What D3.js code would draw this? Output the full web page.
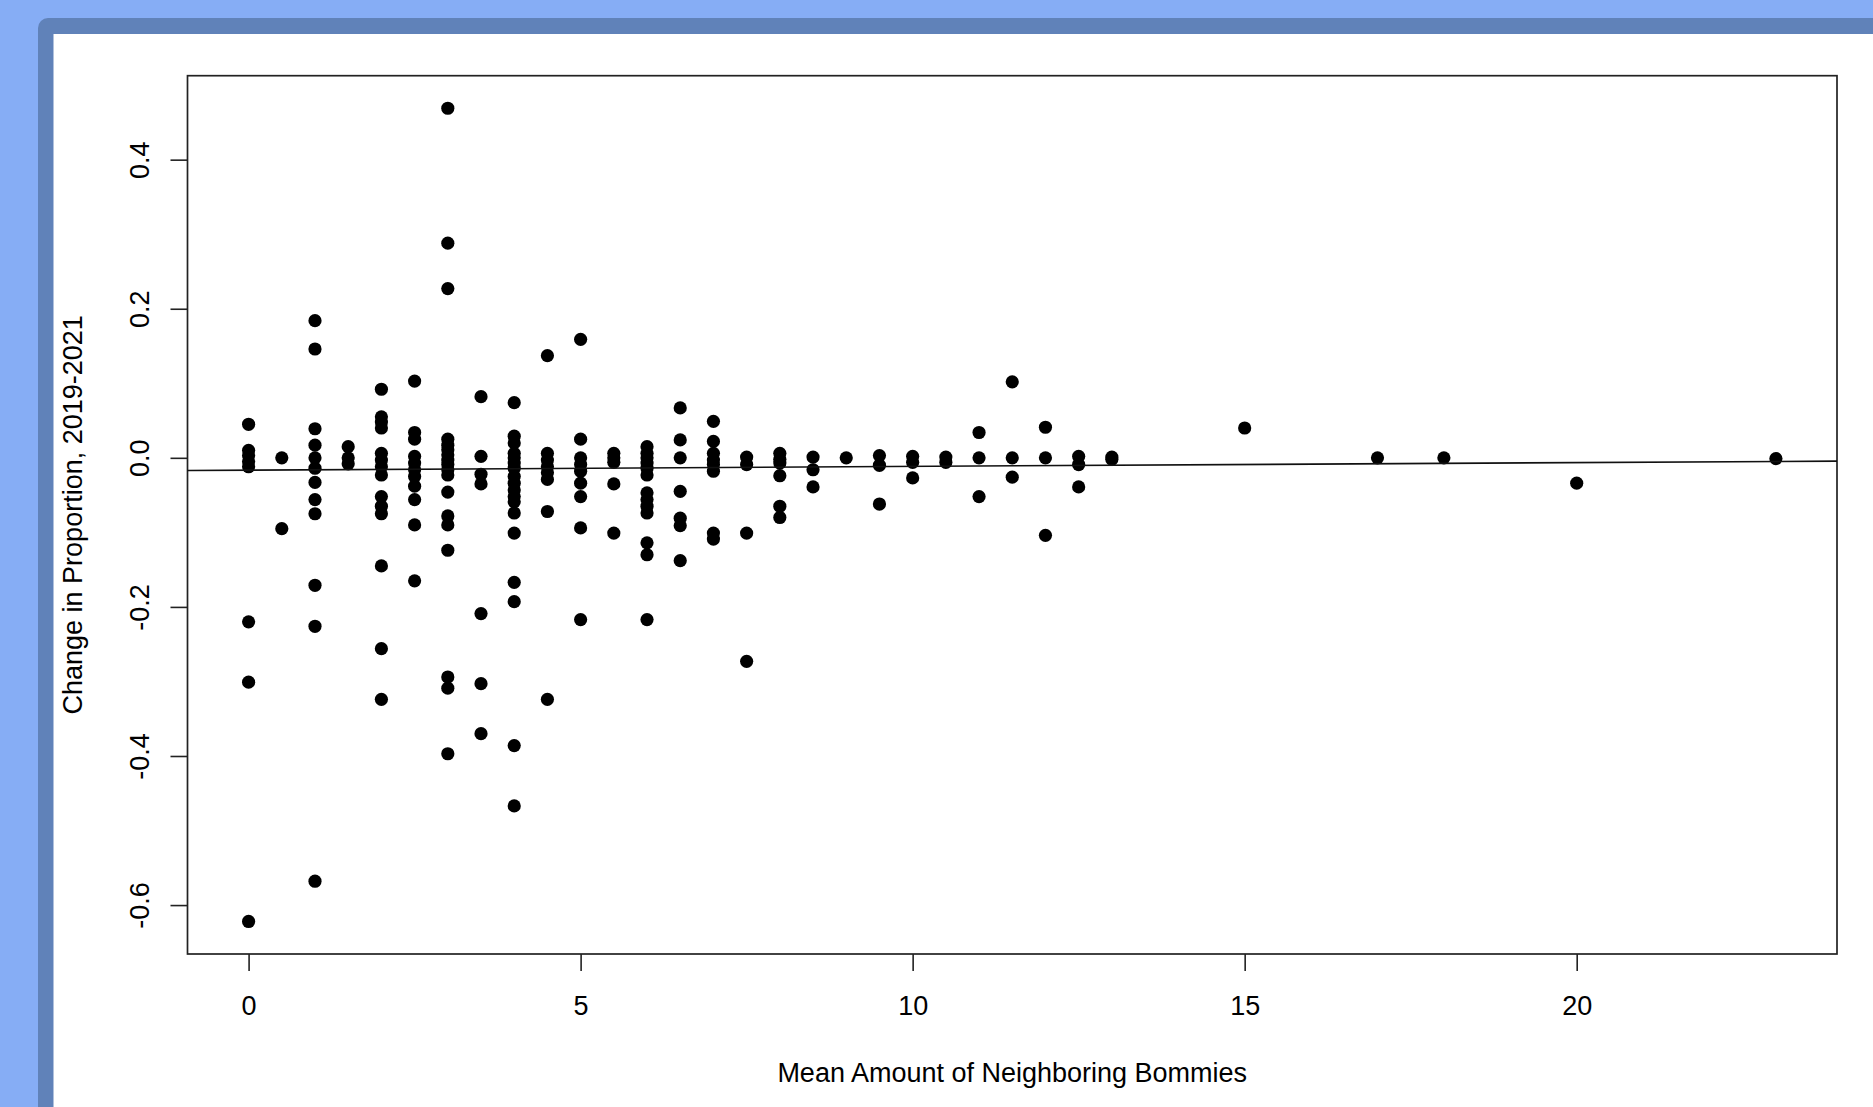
<!DOCTYPE html>
<html>
<head>
<meta charset="utf-8">
<script src="https://cdn.jsdelivr.net/npm/d3@7"></script>
<style>
  html, body { margin: 0; padding: 0; background: #86adf5; overflow: hidden; }
  svg { display: block; }
  text { font-family: "Liberation Sans", Arial, Helvetica, sans-serif; fill: #000; }
</style>
</head>
<body>
<div id="chart"></div>
<script>
// mean neighbouring bommies (x) and the change in proportion observed at each x
var neighborCounts = [0, 0.5, 1, 1.5, 2, 2.5, 3, 3.5, 4, 4.5, 5, 5.5, 6, 6.5, 7, 7.5, 8, 8.5, 9, 9.5, 10, 10.5, 11, 11.5, 12, 12.5, 13, 15, 17, 18, 20, 23];
var proportionChanges = [
  [0.045, 0.01, 0.003, -0.005, -0.012, -0.22, -0.301, -0.622],
  [0.0, -0.095],
  [0.184, 0.146, 0.039, 0.017, 0.0, -0.014, -0.033, -0.056, -0.075, -0.171, -0.226, -0.568],
  [0.015, 0.0, -0.008],
  [0.092, 0.055, 0.048, 0.040, 0.006, -0.003, -0.012, -0.023, -0.052, -0.065, -0.075, -0.145, -0.256, -0.324],
  [0.103, 0.034, 0.025, 0.002, -0.007, -0.016, -0.025, -0.038, -0.056, -0.090, -0.165],
  [0.469, 0.288, 0.227, 0.025, 0.017, 0.011, 0.004, -0.003, -0.009, -0.016, -0.023, -0.046, -0.078, -0.090, -0.124, -0.294, -0.309, -0.397],
  [0.082, 0.002, -0.022, -0.035, -0.209, -0.303, -0.370],
  [0.074, 0.029, 0.020, 0.006, 0.0, -0.007, -0.014, -0.025, -0.034, -0.043, -0.052, -0.059, -0.074, -0.101, -0.167, -0.193, -0.386, -0.467],
  [0.137, 0.006, -0.003, -0.012, -0.020, -0.029, -0.072, -0.324],
  [0.159, 0.025, 0.0, -0.009, -0.018, -0.034, -0.052, -0.094, -0.217],
  [0.006, 0.0, -0.006, -0.035, -0.101],
  [0.015, 0.006, 0.0, -0.007, -0.014, -0.023, -0.047, -0.056, -0.065, -0.074, -0.114, -0.130, -0.217],
  [0.067, 0.024, 0.0, -0.045, -0.081, -0.091, -0.138],
  [0.049, 0.022, 0.006, -0.003, -0.009, -0.018, -0.101, -0.109],
  [0.001, -0.009, -0.101, -0.273],
  [0.006, -0.002, -0.007, -0.024, -0.065, -0.080],
  [0.001, -0.016, -0.039],
  [0.0],
  [0.003, -0.010, -0.062],
  [0.002, -0.006, -0.027],
  [0.001, -0.006],
  [0.034, 0.0, -0.052],
  [0.102, 0.0, -0.026],
  [0.041, 0.0, -0.104],
  [0.002, -0.009, -0.039],
  [0.001, -0.002],
  [0.040],
  [0.0],
  [0.0],
  [-0.034],
  [-0.001]
];

// fitted line (abline of lm)
var fitIntercept = -0.0166,
    fitSlope = 0.00051;

var xTicks = [0, 5, 10, 15, 20];
var yTicks = [-0.6, -0.4, -0.2, 0.0, 0.2, 0.4];

var xTitle = "Mean Amount of Neighboring Bommies",
    yTitle = "Change in Proportion, 2019-2021";

var points = [];
neighborCounts.forEach(function(nx, i) {
  proportionChanges[i].forEach(function(v) { points.push({x: nx, y: v}); });
});

var W = 1873, H = 1107;
var box = {left: 187.5, right: 1837, top: 75.7, bottom: 954};

var svg = d3.select("#chart").append("svg")
    .attr("width", W)
    .attr("height", H);

// window frame behind the plot
svg.append("rect")
    .attr("x", 38).attr("y", 18)
    .attr("width", W).attr("height", H)
    .attr("rx", 10)
    .attr("fill", "#6082b9");
svg.append("rect")
    .attr("x", 53.5).attr("y", 34)
    .attr("width", W).attr("height", H)
    .attr("fill", "#ffffff");

// R style limits: data range stretched by 4% each side
function rlim(ext) {
  var d = (ext[1] - ext[0]) * 0.04;
  return [ext[0] - d, ext[1] + d];
}

var x = d3.scaleLinear()
    .domain(rlim(d3.extent(points, d => d.x)))
    .range([box.left, box.right]);

var y = d3.scaleLinear()
    .domain(rlim(d3.extent(points, d => d.y)))
    .range([box.bottom, box.top]);

var g = svg.append("g");

// x axis
var xAxis = g.append("g")
    .attr("transform", "translate(0," + box.bottom + ")")
    .call(d3.axisBottom(x).tickValues(xTicks).tickSize(17).tickPadding(25).tickFormat(d3.format("d")));
xAxis.select(".domain").remove();
xAxis.selectAll("line").attr("stroke", "#222").attr("stroke-width", 1.6);
xAxis.selectAll("text")
    .attr("font-size", 27)
    .attr("fill", "#000")
    .style("font-family", "'Liberation Sans', Arial, sans-serif");

// y axis, labels rotated like R's las=0
var yAxis = g.append("g")
    .attr("transform", "translate(" + box.left + ",0)")
    .call(d3.axisLeft(y).tickValues(yTicks).tickSize(17).tickFormat(d3.format(".1f")));
yAxis.select(".domain").remove();
yAxis.selectAll("line").attr("stroke", "#222").attr("stroke-width", 1.6);
yAxis.selectAll("text")
    .attr("x", null).attr("dy", null)
    .attr("font-size", 27)
    .attr("fill", "#000")
    .attr("text-anchor", "middle")
    .attr("transform", "translate(-39,0) rotate(-90)")
    .style("font-family", "'Liberation Sans', Arial, sans-serif")
    .text(d => d3.format(".1f")(d).replace("\u2212", "-"));

// plot box
g.append("rect")
    .attr("x", box.left).attr("y", box.top)
    .attr("width", box.right - box.left)
    .attr("height", box.bottom - box.top)
    .attr("fill", "none")
    .attr("stroke", "#222")
    .attr("stroke-width", 1.7);

// points
g.append("g")
  .selectAll("circle")
  .data(points)
  .enter().append("circle")
    .attr("cx", d => x(d.x))
    .attr("cy", d => y(d.y))
    .attr("r", 6.6)
    .attr("fill", "#000");

// regression line across the whole plot region
var xd = x.domain();
g.append("line")
    .attr("x1", x(xd[0])).attr("y1", y(fitIntercept + fitSlope * xd[0]))
    .attr("x2", x(xd[1])).attr("y2", y(fitIntercept + fitSlope * xd[1]))
    .attr("stroke", "#111")
    .attr("stroke-width", 1.6);

// axis titles
svg.append("text")
    .attr("x", (box.left + box.right) / 2)
    .attr("y", 1082)
    .attr("text-anchor", "middle")
    .attr("font-size", 27)
    .text(xTitle);

svg.append("text")
    .attr("transform", "translate(81.5," + ((box.top + box.bottom) / 2) + ") rotate(-90)")
    .attr("text-anchor", "middle")
    .attr("font-size", 27)
    .text(yTitle);
</script>
</body>
</html>
